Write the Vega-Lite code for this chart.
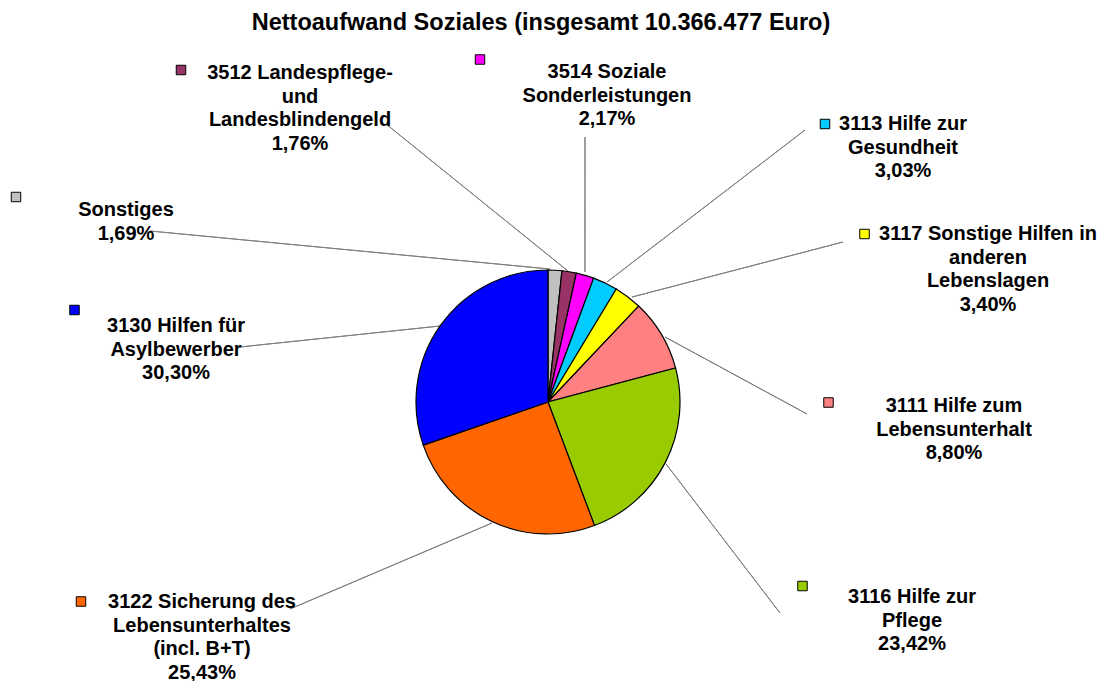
{
  "$schema": "https://vega.github.io/schema/vega-lite/v6.json",
  "width": 1096,
  "height": 684,
  "autosize": {"type": "none"},
  "padding": {"left": 0, "top": 60, "right": 6, "bottom": 0},
  "background": "white",
  "title": {
    "text": "Nettoaufwand Soziales (insgesamt 10.366.477 Euro)",
    "font": "Liberation Sans",
    "fontSize": 23.5,
    "fontWeight": "bold",
    "color": "#000000",
    "anchor": "middle",
    "frame": "group",
    "offset": 29,
    "baseline": "alphabetic",
    "dx": -7,
    "dy": 30
  },
  "config": {"view": {"stroke": null}},
  "data": {
    "values": [
      {"order": 1, "name": "Sonstiges", "value": 1.69, "label": "Sonstiges\n1,69%"},
      {"order": 2, "name": "3512 Landespflege- und Landesblindengeld", "value": 1.76, "label": "3512 Landespflege-\nund\nLandesblindengeld\n1,76%"},
      {"order": 3, "name": "3514 Soziale Sonderleistungen", "value": 2.17, "label": "3514 Soziale\nSonderleistungen\n2,17%"},
      {"order": 4, "name": "3113 Hilfe zur Gesundheit", "value": 3.03, "label": "3113 Hilfe zur\nGesundheit\n3,03%"},
      {"order": 5, "name": "3117 Sonstige Hilfen in anderen Lebenslagen", "value": 3.40, "label": "3117 Sonstige Hilfen in\nanderen\nLebenslagen\n3,40%"},
      {"order": 6, "name": "3111 Hilfe zum Lebensunterhalt", "value": 8.80, "label": "3111 Hilfe zum\nLebensunterhalt\n8,80%"},
      {"order": 7, "name": "3116 Hilfe zur Pflege", "value": 23.42, "label": "3116 Hilfe zur\nPflege\n23,42%"},
      {"order": 8, "name": "3122 Sicherung des Lebensunterhaltes (incl. B+T)", "value": 25.43, "label": "3122 Sicherung des\nLebensunterhaltes\n(incl. B+T)\n25,43%"},
      {"order": 9, "name": "3130 Hilfen für Asylbewerber", "value": 30.30, "label": "3130 Hilfen für\nAsylbewerber\n30,30%"}
    ]
  },
  "layer": [
    {
      "mark": {"type": "arc", "stroke": "#7f7f7f", "strokeWidth": 1, "fillOpacity": 0},
      "encoding": {
        "x": {"field": "order", "type": "quantitative", "axis": null, "scale": {"domain": [1,2,3,4,5,6,7,8,9], "range": [150,386,585,805,843,807,780,290,240], "nice": false, "zero": false}},
        "y": {"field": "order", "type": "quantitative", "axis": null, "scale": {"domain": [1,2,3,4,5,6,7,8,9], "range": [171,64,77,70,182,354,553,549,287], "nice": false, "zero": false}},
        "theta": {"field": "order", "type": "quantitative", "stack": null, "scale": {"type": "linear", "domain": [1,2,3,4,5,6,7,8,9], "range": [1.6656,2.2504,3.1416,-2.2256,-1.8259,-1.0739,-0.6530,1.1683,1.4662], "zero": false, "nice": false}},
        "theta2": {"field": "order"},
        "radius": {"field": "order", "type": "quantitative", "scale": {"type": "linear", "domain": [1,2,3,4,5,6,7,8,9], "range": [401.8,234.0,135,249.6,218.1,161.5,187.6,219.5,201.1], "zero": false, "nice": false}},
        "radius2": {"value": 0}
      }
    },
    {
      "mark": {"type": "arc", "radius": 132, "stroke": "#000000", "strokeWidth": 1.2},
      "encoding": {
        "theta": {"field": "value", "type": "quantitative", "stack": true},
        "order": {"field": "order", "type": "quantitative", "sort": "ascending"},
        "color": {
          "field": "name", "type": "nominal", "legend": null,
          "scale": {
            "domain": ["Sonstiges", "3512 Landespflege- und Landesblindengeld", "3514 Soziale Sonderleistungen", "3113 Hilfe zur Gesundheit", "3117 Sonstige Hilfen in anderen Lebenslagen", "3111 Hilfe zum Lebensunterhalt", "3116 Hilfe zur Pflege", "3122 Sicherung des Lebensunterhaltes (incl. B+T)", "3130 Hilfen für Asylbewerber"],
            "range": ["#C0C0C0", "#993366", "#FF00FF", "#00CCFF", "#FFFF00", "#FF8080", "#99CC00", "#FF6600", "#0000FF"]
          }
        }
      }
    },
    {
      "mark": {"type": "point", "shape": "square", "filled": true, "size": 90, "stroke": "#000000", "strokeWidth": 1, "opacity": 1},
      "encoding": {
        "x": {"field": "order", "type": "quantitative", "axis": null, "scale": {"domain": [1,2,3,4,5,6,7,8,9], "range": [16,181,480,825,864.5,828.5,802.5,81,74.5], "nice": false, "zero": false}},
        "y": {"field": "order", "type": "quantitative", "axis": null, "scale": {"domain": [1,2,3,4,5,6,7,8,9], "range": [137,10,-0.5,64,174,342.5,526,541.5,250], "nice": false, "zero": false}},
        "color": {"field": "name", "type": "nominal", "legend": null}
      }
    },
    {
      "mark": {"type": "text", "font": "Liberation Sans", "fontSize": 20, "fontWeight": "bold", "align": "center", "baseline": "alphabetic", "lineHeight": 23.5, "lineBreak": "\n", "color": "#000000"},
      "encoding": {
        "x": {"field": "order", "type": "quantitative", "axis": null, "scale": {"domain": [1,2,3,4,5,6,7,8,9], "range": [126,300,607,903,988,954,912,202,176], "nice": false, "zero": false}},
        "y": {"field": "order", "type": "quantitative", "axis": null, "scale": {"domain": [1,2,3,4,5,6,7,8,9], "range": [156,19,18,70,180,352,543,548,272], "nice": false, "zero": false}},
        "text": {"field": "label", "type": "nominal"}
      }
    }
  ],
  "resolve": {"scale": {"x": "independent", "y": "independent", "theta": "independent", "radius": "independent"}}
}
